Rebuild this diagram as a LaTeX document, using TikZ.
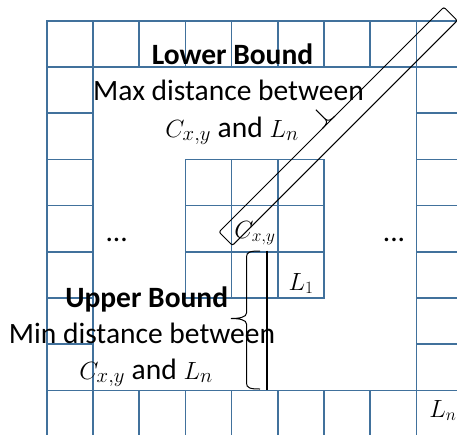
\documentclass[tikz,border=0pt]{standalone}
\usepackage{fontspec}
\setmainfont{Carlito}
\usetikzlibrary{calc}
\definecolor{gridblue}{HTML}{41719C}
\begin{document}
\begin{tikzpicture}[x=1pt,y=-1pt,
  cell/.style={draw=gridblue,line width=1.6pt},
  txt/.style={font=\fontsize{29.5}{35}\selectfont, anchor=base, inner sep=0pt},
  lbl/.style={font=\fontsize{23.5}{28}\selectfont, anchor=base, inner sep=0pt},
  blk/.style={draw=black,line width=1pt}]
\useasboundingbox (0,0) rectangle (457,434);
\clip (0,0) rectangle (457,434);
\def\s{46.2}
% outer ring of cells
\foreach \i in {0,...,8} {
  \draw[cell] ({46.7+\s*\i},20.7) rectangle ++(\s,\s);
  \draw[cell] ({46.7+\s*\i},{20.7+8*\s}) rectangle ++(\s,\s);
}
\foreach \j in {1,...,7} {
  \draw[cell] (46.7,{20.7+\s*\j}) rectangle ++(\s,\s);
  \draw[cell] ({46.7+8*\s},{20.7+\s*\j}) rectangle ++(\s,\s);
}
% inner 3x3 block
\foreach \i in {3,4,5} \foreach \j in {3,4,5} {
  \draw[cell] ({46.7+\s*\i},{20.7+\s*\j}) rectangle ++(\s,\s);
}
% upper text
\node[txt] (lb) at (232.5,64) {\bfseries Lower Bound};
\node[txt] (maxd) at (228.5,100) {Max distance between};
\node[txt] (maxc) at (232,137) {$C_{x,y}$ and $L_n$};
% lower text
\node[txt] (ub) at (146.7,307) {\bfseries Upper Bound};
\node[txt] (mind) at (142,343) {Min distance between};
\node[txt] (minc) at (146,379) {$C_{x,y}$ and $L_n$};
% cell labels
\node[lbl] (cxy) at (255,238) {$C_{x,y}$};
\node[lbl] (l1) at (301,290) {$L_1$};
\node[lbl] (ln) at (443,417) {$L_n$};
\node[txt] (dl) at (116.7,241) {...};
\node[txt] (dr) at (394,241) {...};
% diagonal rectangle with brace tip
\begin{scope}[shift={(219,232)},rotate=45]
  \draw[blk,rounded corners=2pt] (0,0) -- (318,0) -- (318,19) -- (0,19) -- cycle;
  \draw[blk] (146,0) .. controls (152,0) and (155,-1) .. (155,-5) -- (155,-18);
  \draw[blk] (164,0) .. controls (158,0) and (155,-1) .. (155,-5);
\end{scope}
% vertical brace and distance line
\coordinate (bt) at (260,251);
\coordinate (bb) at (260,389);
\draw[blk] (bt) .. controls (250,251) and (246.5,252) .. (246.5,257) -- (246.5,313)
  .. controls (246.5,317) and (240,318.5) .. (231,318.5)
  .. controls (240,318.5) and (246.5,320) .. (246.5,324) -- (246.5,383)
  .. controls (246.5,388) and (250,389) .. (bb);
\coordinate (vt) at (266.7,250.7);
\coordinate (vb) at (266.7,389.5);
\draw[draw=black,line width=1.7pt] (vt) -- (vb);
\end{tikzpicture}
\end{document}
